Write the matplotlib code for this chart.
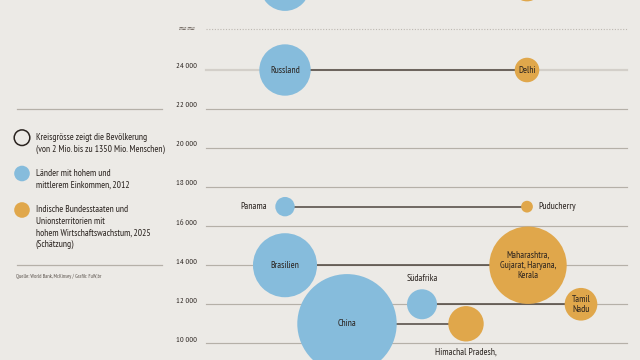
import numpy as np
import matplotlib
matplotlib.use("Agg")
import matplotlib.pyplot as plt
from matplotlib import font_manager as fm

_avail = {f.name for f in fm.fontManager.ttflist}
_cands = ['PT Sans Narrow', 'Roboto Condensed', 'Archivo Narrow', 'Fira Sans Condensed',
          'Asap Condensed', 'Liberation Sans Narrow']
FONT = [c for c in _cands if c in _avail][:1] + ['DejaVu Sans']
plt.rcParams['font.family'] = FONT

# ---------------- data ----------------
# Pairs: country (blue, 2012) vs. Indian state (orange, 2025 estimate)
laender = ["", "Russland", "Panama", "Brasilien", "Südafrika", "China"]
laender_wert = [28300, 24000, 17000, 14000, 12000, 11000]   # first one sits above the axis break
laender_kreis = [25.0, 26.7, 3.8, 41.5, 9.1, 100.0]          # relative circle area (China = 100)

staaten = ["", "Delhi", "Puducherry", "Maharashtra,\nGujarat, Haryana,\nKerala", "Tamil\nNadu",
           "Himachal Pradesh,"]
staaten_wert = [28300, 24000, 17000, 14000, 12000, 11000]
staaten_kreis = [9.5, 6.1, 1.4, 60.6, 10.8, 12.7]

y_ticks = [10000, 12000, 14000, 16000, 18000, 20000, 22000, 24000]
y_break = 26085

legend_texts = [
    ["Kreisgrösse zeigt die Bevölkerung", "(von 2 Mio. bis zu 1350 Mio. Menschen)"],
    ["Länder mit hohem und", "mittlerem Einkommen, 2012"],
    ["Indische Bundesstaaten und", "Unionsterritorien mit", "hohem Wirtschaftswachstum, 2025", "(Schätzung)"],
]
source = "Quelle: World Bank, McKinsey / Grafik: FuW,br"

# ---------------- layout / style ----------------
BG = "#ECEAE6"
BLUE = "#86BCDC"
ORANGE = "#E0A74B"
DARK = "#2A231F"
LINE = "#4E453E"
GRID = "#B5B0A8"

laender_x = [285, 285, 285, 285, 422, 347]
staaten_x = [527, 527, 527, 528, 581, 466]
laender_pos = ['c', 'c', 'l', 'c', 't', 'c']
staaten_pos = ['c', 'c', 'r', 'c', 'c', 'b']

R_MAX = 49.7  # px radius for area 100
PT = 0.72     # points per pixel at dpi 100
FS = 6.9

def radius(a):
    return R_MAX * np.sqrt(a / 100.0)

fig = plt.figure(figsize=(6.4, 3.6), dpi=100, facecolor=BG)
ax = fig.add_axes([0, 0, 1, 1])
ax.set_facecolor(BG)
ax.set_xlim(0, 640)
ax.set_ylim(9145, 27586)
ax.axis('off')

for v in y_ticks:
    if v == 24000:
        ax.plot([206, 627], [v, v], color="#D3CFC9", lw=1.6, zorder=1)
    else:
        ax.plot([206, 627], [v, v], color=GRID, lw=0.85, zorder=1)
    ax.annotate(f"{v // 1000}\u2009000", xy=(197, v), xytext=(0, 1.2), textcoords='offset points',
                ha='right', va='baseline', fontsize=6.0, color=DARK)
ax.plot([206, 627], [y_break, y_break], color="#BDB8B1", lw=0.8, ls=(0, (1, 1.5)), zorder=1)
ax.text(187, y_break, "≈≈", ha='center', va='center', fontsize=8, color="#6b625b",
        family='DejaVu Sans')

for lx, lv, sx, sv in zip(laender_x, laender_wert, staaten_x, staaten_wert):
    ax.plot([lx, sx], [lv, sv], color=LINE, lw=1.1, zorder=2)

def draw(xs, vals, areas, names, poss, color):
    for x, v, a, n, p in zip(xs, vals, areas, names, poss):
        r = radius(a)
        ax.scatter([x], [v], s=(2 * r * PT) ** 2, color=color, edgecolors='none', zorder=3)
        if not n:
            continue
        kw = dict(fontsize=FS, color=DARK, zorder=4, linespacing=1.15, textcoords='offset points')
        if p == 'c':
            ax.annotate(n, xy=(x, v), xytext=(0, 0), ha='center', va='center', **kw)
        elif p == 'l':
            ax.annotate(n, xy=(x, v), xytext=(-(r + 8) * PT, 0), ha='right', va='center', **kw)
        elif p == 'r':
            ax.annotate(n, xy=(x, v), xytext=((r + 5) * PT, 0), ha='left', va='center', **kw)
        elif p == 't':
            ax.annotate(n, xy=(x, v), xytext=(0, (r + 6) * PT), ha='center', va='bottom', **kw)
        elif p == 'b':
            ax.annotate(n, xy=(x, v), xytext=(0, -(r + 6) * PT), ha='center', va='top', **kw)

draw(laender_x, laender_wert, laender_kreis, laender, laender_pos, BLUE)
draw(staaten_x, staaten_wert, staaten_kreis, staaten, staaten_pos, ORANGE)

# ---------------- legend panel (pixel coordinates) ----------------
lg = fig.add_axes([0, 0, 1, 1], facecolor='none')
lg.set_xlim(0, 640)
lg.set_ylim(360, 0)
lg.axis('off')

lg.plot([17, 162], [109, 109], color=GRID, lw=0.9)
lg.plot([17, 162], [265, 265], color=GRID, lw=0.9)

sym_y = [137.7, 173.5, 210]
lg.scatter([22], [sym_y[0]], s=(2 * 7.8 * PT) ** 2, facecolors='none', edgecolors=DARK, linewidths=1.1)
lg.scatter([22], [sym_y[1]], s=(2 * 7.8 * PT) ** 2, color=BLUE, edgecolors='none')
lg.scatter([22], [sym_y[2]], s=(2 * 7.8 * PT) ** 2, color=ORANGE, edgecolors='none')
for y0, lines in zip(sym_y, legend_texts):
    for i, t in enumerate(lines):
        lg.text(36, y0 + i * 11.4, t, ha='left', va='center', fontsize=6.8, color=DARK)

lg.text(16, 276, source, ha='left', va='center', fontsize=3.9, style='italic', color="#5a524c")

fig.savefig("out.png", dpi=100, facecolor=BG)
